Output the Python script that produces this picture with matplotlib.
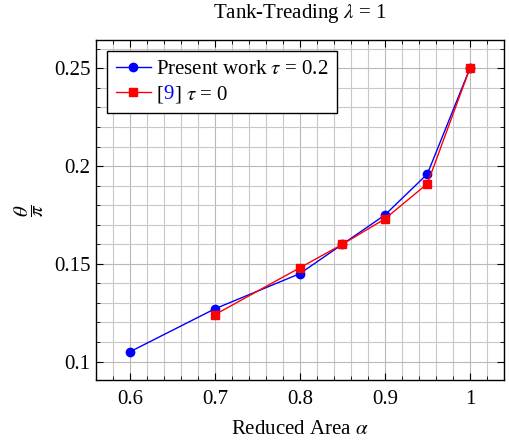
import numpy as np
import matplotlib
matplotlib.use("Agg")
import matplotlib.pyplot as plt
import matplotlib.ticker as ticker
from matplotlib.text import Text
from matplotlib.transforms import Affine2D

plt.rcParams['font.family'] = 'serif'
plt.rcParams['font.serif'] = ['Liberation Serif', 'DejaVu Serif']
plt.rcParams['mathtext.fontset'] = 'stix'

# data
alpha_present = [0.6, 0.7, 0.8, 0.85, 0.9, 0.95, 1.0]
theta_present = [0.105, 0.127, 0.145, 0.160, 0.175, 0.196, 0.250]
alpha_ref = [0.7, 0.8, 0.85, 0.9, 0.95, 1.0]
theta_ref = [0.124, 0.148, 0.160, 0.173, 0.191, 0.250]

xticks = [0.6, 0.7, 0.8, 0.9, 1.0]
xticklabels = ["0.6", "0.7", "0.8", "0.9", "1"]
yticks = [0.1, 0.15, 0.2, 0.25]
yticklabels = ["0.1", "0.15", "0.2", "0.25"]

fig = plt.figure(figsize=(5.1, 4.4), dpi=100)
ax = fig.add_axes([0.188, 0.136, 0.800, 0.773])

ax.plot(alpha_present, theta_present, color="blue", marker="o", markersize=6,
        linewidth=1.0, label=r"Present work $\tau$ = 0.2", zorder=3)
ax.plot(alpha_ref, theta_ref, color="red", marker="s", markersize=6,
        linewidth=1.0, label=r"[9] $\tau$ = 0", zorder=3)

ax.set_xlim(0.56, 1.04)
ax.set_ylim(0.0905, 0.2645)
ax.set_xticks(xticks)
ax.set_xticklabels(xticklabels)
ax.set_yticks(yticks)
ax.set_yticklabels(yticklabels)
ax.xaxis.set_minor_locator(ticker.MultipleLocator(0.02))
ax.yaxis.set_minor_locator(ticker.MultipleLocator(0.01))
ax.tick_params(which="both", direction="in", top=True, right=True, labelsize=15)
ax.tick_params(axis="x", pad=7)
ax.tick_params(axis="y", pad=4)
ax.tick_params(which="major", length=5, width=0.8)
ax.tick_params(which="minor", length=3, width=0.6)
ax.grid(True, which="major", color="#b8b8b8", linewidth=0.8)
ax.grid(True, which="minor", color="#c8c8c8", linewidth=0.8)
ax.set_axisbelow(True)
for s in ax.spines.values():
    s.set_linewidth(1.0)

ax.set_title(r"Tank-Treading $\lambda$ = 1", fontsize=15, pad=16)
ax.set_xlabel(r"Reduced Area $\alpha$", fontsize=15, labelpad=8)
ax.set_ylabel(r"$\dfrac{\theta}{\pi}$", fontsize=15)
ax.yaxis.set_label_coords(-0.1225, 0.5)

leg = ax.legend(loc="upper left", fontsize=15, frameon=True, fancybox=False,
                edgecolor="black", framealpha=1, borderaxespad=0.55,
                handlelength=1.7, handletextpad=0.25, borderpad=0.4,
                labelspacing=0.2)
leg.get_frame().set_linewidth(1.0)

# second label: citation number in blue, drawn as three pieces
fig.canvas.draw()
renderer = fig.canvas.get_renderer()
txt = leg.get_texts()[1]
prop = txt.get_fontproperties()
w1 = renderer.get_text_width_height_descent("[", prop, ismath=False)[0]
w2 = renderer.get_text_width_height_descent("[9", prop, ismath=False)[0]
txt.set_visible(False)
for s, c, dx in [("[", "black", 0), ("9", "blue", w1), (r"] $\tau$ = 0", "black", w2)]:
    t = Text(0, 0, s, color=c, fontproperties=prop, va="baseline", ha="left",
             transform=txt.get_transform() + Affine2D().translate(dx, 0))
    fig.add_artist(t)

fig.savefig("out.png", dpi=100)
